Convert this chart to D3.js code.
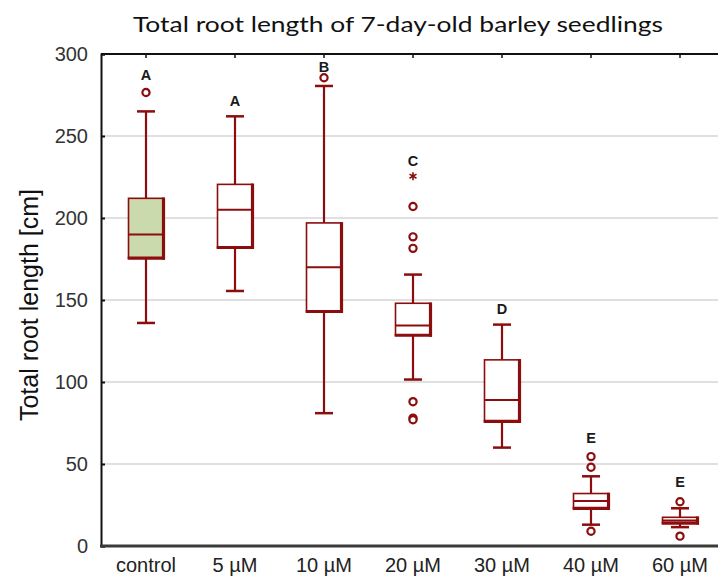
<!DOCTYPE html>
<html><head><meta charset="utf-8">
<script src="https://cdn.jsdelivr.net/npm/d3@7"></script>
<style>body{margin:0;background:#fff}svg{display:block}</style>
</head><body>
<script>
const categories = ["control","5 µM","10 µM","20 µM","30 µM","40 µM","60 µM"];
const whiskerLow  = [136, 155.5, 81, 101.5, 60, 13, 11.5];
const q1          = [175.5, 182, 143, 128.5, 76, 23, 14];
const median      = [190, 205, 170, 134.5, 89, 27.5, 15.5];
const q3          = [212, 220.5, 197, 148, 113.5, 32, 17.5];
const whiskerHigh = [265, 262, 280.5, 165.5, 135, 42.5, 23];
const outliers    = [[276.5], [], [285.5], [207, 188.5, 181.5, 88, 78, 77], [], [54.5, 48, 9], [27, 6]];
const extremes    = [[], [], [], [225.5], [], [], []];
const groupLetters = ["A","A","B","C","D","E","E"];
const letterValue  = [284, 268.5, 289, 232, 141.5, 62.6, 35.8];
const yTicks = [0, 50, 100, 150, 200, 250, 300];
const filled = [true, false, false, false, false, false, false];

const W = 718, H = 578;
const red = "#8b0d0d";
const svg = d3.select("body").append("svg").attr("width", W).attr("height", H);

const x = d3.scaleBand().domain(categories).range([101.5, 724.5]);
const y = d3.scaleLinear().domain([0, 300]).range([546, 54]);
const cx = c => x(c) + x.bandwidth() / 2;
const boxW = 35, capW = 18;

// gridlines
svg.append("g").selectAll("line").data(yTicks.filter(t => t > 0 && t < 300)).join("line")
  .attr("x1", 102).attr("x2", W).attr("y1", d => y(d)).attr("y2", d => y(d))
  .attr("stroke", "#d6d6d6").attr("stroke-width", 1.5);

// top line with inward ticks
svg.append("line").attr("x1", 101).attr("x2", W).attr("y1", 54).attr("y2", 54)
  .attr("stroke", "#111").attr("stroke-width", 2);
svg.append("g").selectAll("line").data(categories).join("line")
  .attr("x1", d => cx(d)).attr("x2", d => cx(d)).attr("y1", 54).attr("y2", 58)
  .attr("stroke", "#111").attr("stroke-width", 1.5);

// left axis
const yAxis = d3.axisLeft(y).tickValues(yTicks).tickSize(-4).tickPadding(13);
const gy = svg.append("g").attr("transform", "translate(101,0)").call(yAxis);
gy.select(".domain").attr("stroke", "#111").attr("stroke-width", 2);
gy.selectAll(".tick line").attr("stroke", "#111").attr("stroke-width", 2);
gy.selectAll(".tick text").attr("font-family", "Liberation Sans, Arial, sans-serif")
  .attr("font-size", 20).attr("fill", "#333");

// bottom axis
const xAxis = d3.axisBottom(x).tickSize(0).tickPadding(12);
const gx = svg.append("g").attr("transform", "translate(0,546)").call(xAxis);
gx.select(".domain").remove();
gx.selectAll(".tick text").attr("font-family", "Liberation Sans, Arial, sans-serif")
  .attr("font-size", 20).attr("fill", "#222").attr("dy", "0.71em");
svg.append("line").attr("x1", 100).attr("x2", W).attr("y1", 546).attr("y2", 546)
  .attr("stroke", "#3a3a3a").attr("stroke-width", 3);

// boxes
const g = svg.append("g");
categories.forEach((c, i) => {
  const xc = cx(c);
  const gg = g.append("g");
  // whiskers
  gg.append("line").attr("x1", xc).attr("x2", xc).attr("y1", y(q3[i])).attr("y2", y(whiskerHigh[i]))
    .attr("stroke", red).attr("stroke-width", 2.2);
  gg.append("line").attr("x1", xc).attr("x2", xc).attr("y1", y(q1[i])).attr("y2", y(whiskerLow[i]))
    .attr("stroke", red).attr("stroke-width", 2.2);
  [whiskerHigh[i], whiskerLow[i]].forEach(v => {
    gg.append("line").attr("x1", xc - capW / 2).attr("x2", xc + capW / 2).attr("y1", y(v)).attr("y2", y(v))
      .attr("stroke", red).attr("stroke-width", 2.5);
  });
  // box
  gg.append("rect").attr("x", xc - boxW / 2).attr("y", y(q3[i]))
    .attr("width", boxW).attr("height", y(q1[i]) - y(q3[i]))
    .attr("fill", filled[i] ? "#cbdaad" : "#fff")
    .attr("stroke", red).attr("stroke-width", 1.6);
  // shadow edges (right, bottom)
  gg.append("line").attr("x1", xc + boxW / 2).attr("x2", xc + boxW / 2)
    .attr("y1", y(q3[i]) - 0.8).attr("y2", y(q1[i]) + 1.5)
    .attr("stroke", red).attr("stroke-width", 3.2);
  gg.append("line").attr("x1", xc - boxW / 2 - 0.8).attr("x2", xc + boxW / 2 + 1.5)
    .attr("y1", y(q1[i])).attr("y2", y(q1[i]))
    .attr("stroke", red).attr("stroke-width", 3.2);
  // median
  gg.append("line").attr("x1", xc - boxW / 2).attr("x2", xc + boxW / 2)
    .attr("y1", y(median[i])).attr("y2", y(median[i]))
    .attr("stroke", red).attr("stroke-width", 2);
  // outliers
  gg.selectAll("circle").data(outliers[i]).join("circle")
    .attr("cx", xc).attr("cy", d => y(d)).attr("r", 3.6)
    .attr("fill", "#fff").attr("stroke", red).attr("stroke-width", 2.2);
  gg.selectAll("path.ext").data(extremes[i]).join("path").attr("class", "ext")
    .attr("transform", d => `translate(${xc},${y(d)})`)
    .attr("d", d3.symbol(d3.symbolAsterisk, 45))
    .attr("fill", "none").attr("stroke", red).attr("stroke-width", 1.6);
  // group letter
  gg.append("text").attr("x", xc).attr("y", y(letterValue[i]))
    .attr("text-anchor", "middle").attr("font-family", "Liberation Sans, Arial, sans-serif")
    .attr("font-weight", "bold").attr("font-size", 14.5).attr("fill", "#1a1a1a")
    .text(groupLetters[i]);
});

// title
svg.append("text").attr("x", 398).attr("y", 32).attr("text-anchor", "middle")
  .attr("font-family", "Lato, sans-serif").attr("font-size", 21).attr("fill", "#111")
  .attr("textLength", 530).attr("lengthAdjust", "spacingAndGlyphs")
  .text("Total root length of 7-day-old barley seedlings");

// y label
svg.append("text").attr("transform", "translate(38,305) rotate(-90)")
  .attr("text-anchor", "middle").attr("font-family", "Liberation Sans, Arial, sans-serif")
  .attr("font-size", 25).attr("fill", "#111")
  .text("Total root length [cm]");
</script>
</body></html>
